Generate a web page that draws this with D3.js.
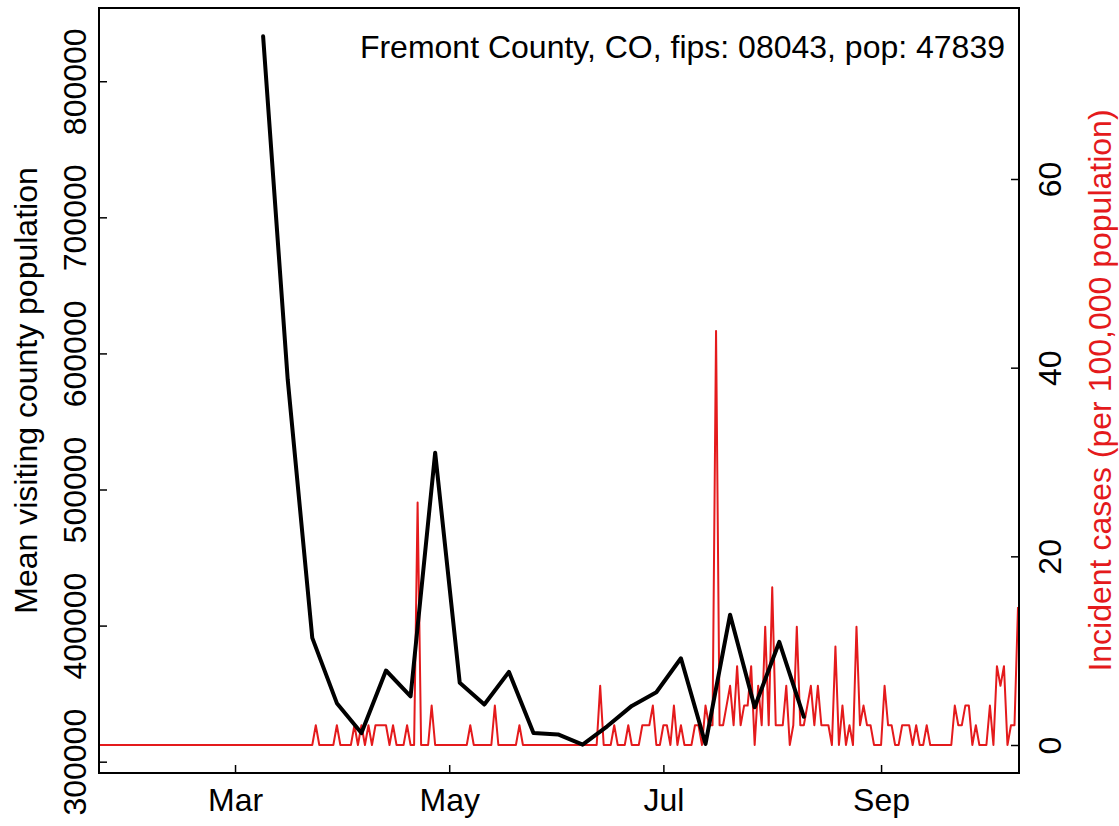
<!DOCTYPE html>
<html><head><meta charset="utf-8">
<script src="https://cdn.jsdelivr.net/npm/d3@7"></script>
<style>
body{margin:0;background:#fff}
svg{display:block}
text{font-family:"Liberation Sans", Arial, Helvetica, sans-serif;}
</style>
</head><body><svg id="c" width="1119" height="826"></svg>
<script>
// ---- data ----
const titleText = "Fremont County, CO, fips: 08043, pop: 47839";
const leftAxisTitle = "Mean visiting county population";
const rightAxisTitle = "Incident cases (per 100,000 population)";

// weekly mean visiting population, weeks starting 2020-03-09
const mobilityStart = "2020-03-09";
const mobilityValues = [833000, 581000, 391000, 343000, 321000, 367000, 348000, 527000,
  358000, 342000, 366000, 321000, 320000, 312500, 326000, 341000, 351000, 376000,
  313000, 408000, 340000, 388000, 333000];

// daily incident cases per 100,000, from 2020-01-22
const casesStart = "2020-01-22";
const caseValues = [
  0,0,0,0,0,0,0,0,0,0,
  0,0,0,0,0,0,0,0,0,0,
  0,0,0,0,0,0,0,0,0,0,
  0,0,0,0,0,0,0,0,0,0,
  0,0,0,0,0,0,0,0,0,0,
  0,0,0,0,0,0,0,0,0,0,
  0,0,2.09,0,0,0,0,0,2.09,0,
  0,0,0,2.09,0,2.09,0,2.09,0,2.09,
  2.09,2.09,2.09,0,2.09,0,0,0,2.09,0,
  0,25.7,0,0,0,4.18,0,0,0,0,
  0,0,0,0,0,0,2.09,0,0,0,
  0,0,0,4.18,0,0,0,0,0,0,
  2.09,0,0,0,0,0,0,0,0,0,
  0,0,0,0,0,0,0,0,0,0,
  0,0,0,6.27,0,0,0,2.09,0,0,
  0,2.09,0,0,0,2.09,2.09,2.09,4.18,0,
  0,2.09,2.09,0,4.18,0,2.09,0,0,0,
  2.09,2.09,0,4.18,2.09,2.09,43.9,2.09,2.09,4.18,
  6.27,2.09,8.36,2.09,4.18,4.18,8.36,0,6.27,2.09,
  12.54,2.09,16.72,2.09,2.09,2.09,6.27,0,2.09,12.54,
  2.09,2.09,4.18,6.27,2.09,6.27,2.09,2.09,2.09,0,
  10.45,0,4.18,0,2.09,0,12.54,2.09,4.18,2.09,
  2.09,0,0,0,6.27,2.09,2.09,0,0,2.09,
  2.09,2.09,0,2.09,0,0,2.09,0,0,0,
  0,0,0,0,4.18,2.09,2.09,4.18,4.18,0,
  2.09,0,0,0,4.18,0,8.36,6.27,8.36,0,
  2.09,2.09,14.63
];

const xTickDates = ["2020-03-01", "2020-05-01", "2020-07-01", "2020-09-01"];
const xTickLabels = ["Mar", "May", "Jul", "Sep"];
const leftTicks = [300000, 400000, 500000, 600000, 700000, 800000];
const rightTicks = [0, 20, 40, 60];

// ---- layout ----
const L = 99, R = 1019, T = 8, B = 773;
const RED = "#e41a1c";
const FS = 32;

const parse = d3.utcParse("%Y-%m-%d");
const mob = mobilityValues.map((v, i) => ({date: d3.utcDay.offset(parse(mobilityStart), 7 * i), v}));
const cases = caseValues.map((v, i) => ({date: d3.utcDay.offset(parse(casesStart), i), v}));

const x = d3.scaleUtc()
  .domain([parse(casesStart), cases[cases.length - 1].date])
  .range([98.1, 1018]);

const ext = d3.extent(mobilityValues);
const pad = 0.04 * (ext[1] - ext[0]);
const yL = d3.scaleLinear().domain([ext[0] - pad, ext[1] + pad]).range([B, T]);
const yR = d3.scaleLinear().domain([0, 60]).range([745, 179]);

const svg = d3.select("#c");
svg.append("rect").attr("width", 1119).attr("height", 826).attr("fill", "#fff");

svg.append("clipPath").attr("id", "clip")
  .append("rect").attr("x", L).attr("y", T).attr("width", R - L).attr("height", B - T);

const g = svg.append("g").attr("clip-path", "url(#clip)");

// red incidence line
g.append("path").datum(cases)
  .attr("fill", "none").attr("stroke", RED).attr("stroke-width", 2)
  .attr("stroke-linejoin", "round")
  .attr("d", d3.line().x(d => x(d.date)).y(d => yR(d.v)));

// black mobility line
g.append("path").datum(mob)
  .attr("fill", "none").attr("stroke", "#000").attr("stroke-width", 4)
  .attr("stroke-linejoin", "round").attr("stroke-linecap", "round")
  .attr("d", d3.line().x(d => x(d.date)).y(d => yL(d.v)));

// box
svg.append("rect").attr("x", L).attr("y", T).attr("width", R - L).attr("height", B - T)
  .attr("fill", "none").attr("stroke", "#000").attr("stroke-width", 2);

// x axis (ticks inward)
const xAxis = d3.axisBottom(x)
  .tickValues(xTickDates.map(parse))
  .tickFormat((d, i) => xTickLabels[i])
  .tickSizeInner(-8).tickSizeOuter(0).tickPadding(0);
const gx = svg.append("g").attr("transform", `translate(0,${B})`).call(xAxis);
gx.select(".domain").remove();
gx.selectAll(".tick line").attr("stroke", "#000").attr("stroke-width", 1.5);
gx.selectAll(".tick text").attr("font-size", FS).attr("fill", "#000")
  .attr("y", 38).attr("dy", 0);
gx.attr("font-family", null);

// left axis
const yAxisL = d3.axisLeft(yL).tickValues(leftTicks).tickFormat(d3.format("d"))
  .tickSizeInner(-8).tickSizeOuter(0);
const gl = svg.append("g").attr("transform", `translate(${L},0)`).call(yAxisL);
gl.select(".domain").remove();
gl.selectAll(".tick line").attr("stroke", "#000").attr("stroke-width", 1.5);
gl.selectAll(".tick text").attr("font-size", FS).attr("fill", "#000")
  .attr("x", null).attr("dy", null)
  .attr("text-anchor", "middle")
  .attr("transform", "translate(-13,0) rotate(-90)");
gl.attr("font-family", null);

// right axis
const yAxisR = d3.axisRight(yR).tickValues(rightTicks).tickFormat(d3.format("d"))
  .tickSizeInner(-8).tickSizeOuter(0);
const gr = svg.append("g").attr("transform", `translate(${R},0)`).call(yAxisR);
gr.select(".domain").remove();
gr.selectAll(".tick line").attr("stroke", "#000").attr("stroke-width", 1.5);
gr.selectAll(".tick text").attr("font-size", FS).attr("fill", "#000")
  .attr("x", null).attr("dy", null)
  .attr("text-anchor", "middle")
  .attr("transform", "translate(42,0) rotate(-90)");
gr.attr("font-family", null);

// axis titles
const midY = (T + B) / 2;
svg.append("text").attr("transform", `translate(37,${midY}) rotate(-90)`)
  .attr("text-anchor", "middle").attr("font-size", FS).attr("fill", "#000")
  .text(leftAxisTitle);
svg.append("text").attr("transform", `translate(1111,${midY}) rotate(-90)`)
  .attr("text-anchor", "middle").attr("font-size", FS).attr("fill", RED)
  .text(rightAxisTitle);

// legend-like title
svg.append("text").attr("x", 1005).attr("y", 58).attr("text-anchor", "end")
  .attr("font-size", FS).attr("fill", "#000").text(titleText);
</script>
</body></html>
